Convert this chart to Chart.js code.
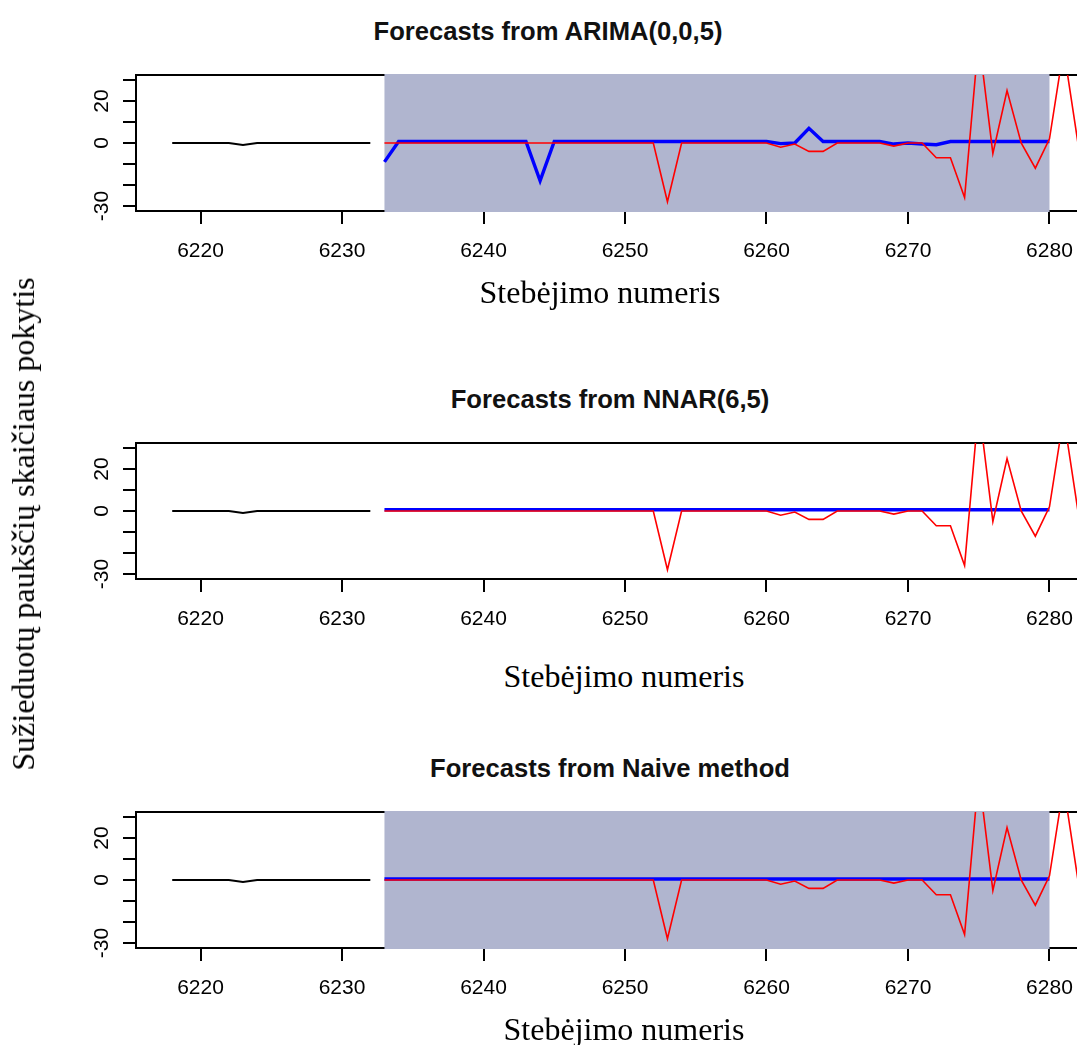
<!DOCTYPE html>
<html>
<head>
<meta charset="utf-8">
<script src="https://cdn.jsdelivr.net/npm/chart.js@4.4.1/dist/chart.umd.min.js"></script>
<style>
html,body{margin:0;padding:0;background:#fff;overflow:hidden;}
#page{position:relative;width:1077px;height:1045px;overflow:hidden;background:#fff;}
canvas{position:absolute;left:0;}
.t{position:absolute;white-space:nowrap;line-height:1;color:#000;}
.title{font-family:"Liberation Sans",Arial,sans-serif;font-weight:bold;font-size:25.6px;color:#111;transform:translateX(-50%);}
.xl{font-family:"Liberation Serif","Times New Roman",serif;font-size:32px;transform:translateX(-50%);}
.yl{font-family:"Liberation Serif","Times New Roman",serif;font-size:32px;left:22.5px;top:524px;transform:translate(-50%,-50%) rotate(-90deg);}
</style>
</head>
<body>
<div id="page">
  <canvas id="c1" width="1130" height="221" style="top:60px"></canvas>
  <canvas id="c2" width="1130" height="221" style="top:428px"></canvas>
  <canvas id="c3" width="1130" height="221" style="top:797px"></canvas>

  <div class="t title" style="left:548px;top:19px">Forecasts from ARIMA(0,0,5)</div>
  <div class="t title" style="left:610px;top:387px">Forecasts from NNAR(6,5)</div>
  <div class="t title" style="left:610px;top:756px">Forecasts from Naive method</div>

  <div class="t xl" style="left:600px;top:276px">Stebėjimo numeris</div>
  <div class="t xl" style="left:624px;top:660px">Stebėjimo numeris</div>
  <div class="t xl" style="left:624px;top:1013px">Stebėjimo numeris</div>

  <div class="t yl">Sužieduotų paukščių skaičiaus pokytis</div>
</div>
<script>
// ---- data ----
const histX = [6218,6219,6220,6221,6222,6223,6224,6225,6226,6227,6228,6229,6230,6231,6232];
const histY = [0,0,0,0,0,-1,0,0,0,0,0,0,0,0,0];

const testX = [6233,6234,6235,6236,6237,6238,6239,6240,6241,6242,
               6243,6244,6245,6246,6247,6248,6249,6250,6251,6252,
               6253,6254,6255,6256,6257,6258,6259,6260,6261,6262,
               6263,6264,6265,6266,6267,6268,6269,6270,6271,6272,
               6273,6274,6275,6276,6277,6278,6279,6280,6281,6282];
const testY = [0,0,0,0,0,0,0,0,0,0,
               0,0,0,0,0,0,0,0,0,0,
               -28,0,0,0,0,0,0,0,-2,-0.5,
               -4,-4,0,0,0,0,-1.5,0,0,-7,
               -7,-26,50,-5,25,0,-12,2,45,0.5];

const fcX = [6233,6234,6235,6236,6237,6238,6239,6240,6241,6242,
             6243,6244,6245,6246,6247,6248,6249,6250,6251,6252,
             6253,6254,6255,6256,6257,6258,6259,6260,6261,6262,
             6263,6264,6265,6266,6267,6268,6269,6270,6271,6272,
             6273,6274,6275,6276,6277,6278,6279,6280];
const arimaFc = [-9,0.7,0.7,0.7,0.7,0.7,0.7,0.7,0.7,0.7,
                 0.7,-18,0.7,0.7,0.7,0.7,0.7,0.7,0.7,0.7,
                 0.7,0.7,0.7,0.7,0.7,0.7,0.7,0.7,-0.3,0,
                 7,0.7,0.7,0.7,0.7,0.7,-0.5,0,-0.5,-0.8,
                 0.7,0.7,0.7,0.7,0.7,0.7,0.7,0.7];
const nnarFc = [0.6,0.6,0.6,0.6,0.6,0.6,0.6,0.6,0.6,0.6,
                0.6,0.6,0.6,0.6,0.6,0.6,0.6,0.6,0.6,0.6,
                0.6,0.6,0.6,0.6,0.6,0.6,0.6,0.6,0.6,0.6,
                0.6,0.6,0.6,0.6,0.6,0.6,0.6,0.6,0.6,0.6,
                0.6,0.6,0.6,0.6,0.6,0.6,0.6,0.6];
const naiveFc = [0.5,0.5,0.5,0.5,0.5,0.5,0.5,0.5,0.5,0.5,
                 0.5,0.5,0.5,0.5,0.5,0.5,0.5,0.5,0.5,0.5,
                 0.5,0.5,0.5,0.5,0.5,0.5,0.5,0.5,0.5,0.5,
                 0.5,0.5,0.5,0.5,0.5,0.5,0.5,0.5,0.5,0.5,
                 0.5,0.5,0.5,0.5,0.5,0.5,0.5,0.5];

const xTicks = [6220,6230,6240,6250,6260,6270,6280];
const yTicks = [-30,-20,-10,0,10,20,30];
const yLabelled = [-30,0,20];

// ---- drawing ----
const pts = (xs, ys) => xs.map((x, i) => ({x: x, y: ys[i]}));

const boxBand = {
  id: 'boxBand',
  beforeDatasetsDraw(chart, args, opts) {
    const {ctx, chartArea: a, scales} = chart;
    ctx.save();
    ctx.strokeStyle = '#000';
    ctx.lineWidth = 2;
    ctx.strokeRect(a.left, a.top, a.right - a.left, a.bottom - a.top);
    if (opts.shade) {
      const x0 = scales.x.getPixelForValue(fcX[0]);
      const x1 = scales.x.getPixelForValue(fcX[fcX.length - 1]);
      ctx.fillStyle = '#b0b5cf';
      ctx.fillRect(x0, a.top - 1, x1 - x0, a.bottom - a.top + 2);
    }
    ctx.restore();
  }
};

const tickFont = {family: '"Liberation Sans", Arial, sans-serif', size: 21};

function makeChart(id, fc, shade) {
  return new Chart(document.getElementById(id), {
    type: 'line',
    data: {
      datasets: [
        {data: pts(testX, testY), borderColor: '#ff0000', borderWidth: 1.6, pointRadius: 0, tension: 0},
        {data: pts(fcX, fc), borderColor: '#0000ff', borderWidth: 3.4, pointRadius: 0, tension: 0},
        {data: pts(histX, histY), borderColor: '#000000', borderWidth: 2, pointRadius: 0, tension: 0}
      ]
    },
    options: {
      responsive: false,
      animation: false,
      events: [],
      layout: {padding: {left: 0, right: 16, top: 15, bottom: 0}},
      plugins: {legend: {display: false}, tooltip: {enabled: false}, title: {display: false},
                boxBand: {shade: shade}},
      scales: {
        x: {
          type: 'linear', min: 6215.44, max: 6284.56,
          afterBuildTicks: s => { s.ticks = xTicks.map(v => ({value: v})); },
          afterFit: s => { s.height = 70; s.paddingLeft = 0; s.paddingRight = 0; },
          grid: {drawOnChartArea: false, tickLength: 13, color: '#000', lineWidth: 2},
          border: {display: false},
          ticks: {autoSkip: false, minRotation: 0, maxRotation: 0, padding: 15, color: '#000',
                  font: tickFont, callback: v => String(v)}
        },
        y: {
          type: 'linear', min: -32.4, max: 32.4,
          afterBuildTicks: s => { s.ticks = yTicks.map(v => ({value: v})); },
          afterFit: s => { s.width = 136; s.paddingTop = 0; s.paddingBottom = 0; },
          grid: {drawOnChartArea: false, tickLength: 13, color: '#000', lineWidth: 2},
          border: {display: false},
          ticks: {autoSkip: false, minRotation: 90, maxRotation: 90, crossAlign: 'center', padding: 6,
                  color: '#000', font: tickFont,
                  callback: v => yLabelled.includes(v) ? String(v) : ''}
        }
      }
    },
    plugins: [boxBand]
  });
}

makeChart('c1', arimaFc, true);
makeChart('c2', nnarFc, false);
makeChart('c3', naiveFc, true);
</script>
</body>
</html>
